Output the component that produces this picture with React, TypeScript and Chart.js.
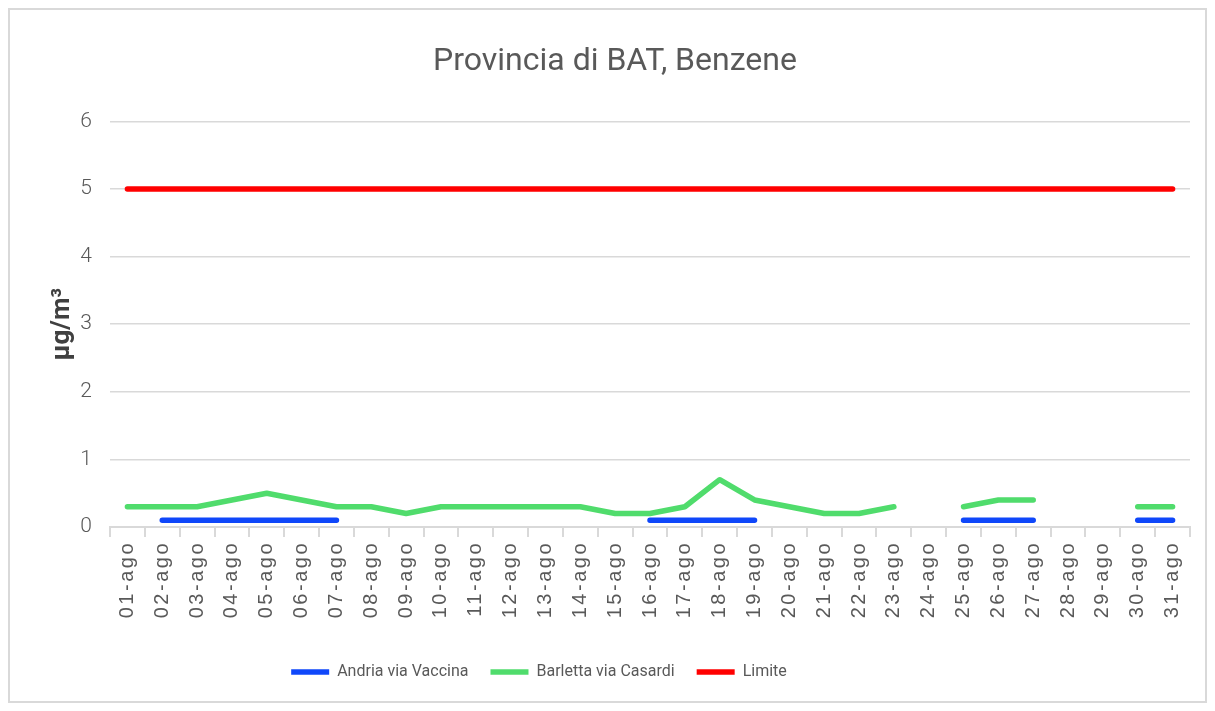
import React, { useEffect, useRef } from "react";
import { Chart, registerables } from "chart.js";

Chart.register(...registerables);

const categories = [
  "01-ago", "02-ago", "03-ago", "04-ago", "05-ago", "06-ago", "07-ago", "08-ago",
  "09-ago", "10-ago", "11-ago", "12-ago", "13-ago", "14-ago", "15-ago", "16-ago",
  "17-ago", "18-ago", "19-ago", "20-ago", "21-ago", "22-ago", "23-ago", "24-ago",
  "25-ago", "26-ago", "27-ago", "28-ago", "29-ago", "30-ago", "31-ago",
];

const andria: (number | null)[] = [
  null, 0.1, 0.1, 0.1, 0.1, 0.1, 0.1, null,
  null, null, null, null, null, null, null, 0.1,
  0.1, 0.1, 0.1, null, null, null, null, null,
  0.1, 0.1, 0.1, null, null, 0.1, 0.1,
];

const barletta: (number | null)[] = [
  0.3, 0.3, 0.3, 0.4, 0.5, 0.4, 0.3, 0.3,
  0.2, 0.3, 0.3, 0.3, 0.3, 0.3, 0.2, 0.2,
  0.3, 0.7, 0.4, 0.3, 0.2, 0.2, 0.3, null,
  0.3, 0.4, 0.4, null, null, 0.3, 0.3,
];

const limite: number[] = [
  5, 5, 5, 5, 5, 5, 5, 5, 5, 5, 5, 5, 5, 5, 5, 5,
  5, 5, 5, 5, 5, 5, 5, 5, 5, 5, 5, 5, 5, 5, 5,
];

const FONT = "Roboto, 'Liberation Sans', sans-serif";
const TICK_FONT = "'Liberation Sans', Arial, sans-serif";
const TEXT = "#595959";
const GRID = "#d9d9d9";

const layoutTweaks = {
  id: "layoutTweaks",
  afterLayout(chart: any) {
    if (chart.legend) {
      chart.legend.left -= 61;
      chart.legend.right -= 61;
    }
    if (chart.titleBlock) {
      chart.titleBlock.left += 15;
      chart.titleBlock.right += 15;
    }
  },
  beforeDraw(chart: any) {
    const s: any = chart.scales.x;
    if (s && !s.__patched) {
      const orig = s.drawLabels.bind(s);
      s.drawLabels = (ca: any) => {
        const ctx: any = chart.ctx;
        ctx.save();
        ctx.letterSpacing = "2.5px";
        orig(ca);
        ctx.restore();
      };
      s.__patched = true;
    }
  },
};

export default function App() {
  const ref = useRef<HTMLCanvasElement | null>(null);

  useEffect(() => {
    if (!ref.current) return;
    const lineStyle = {
      borderWidth: 5.5,
      pointRadius: 0,
      pointHoverRadius: 0,
      borderCapStyle: "round" as const,
      borderJoinStyle: "round" as const,
      tension: 0,
      spanGaps: false,
      fill: false,
    };
    const chart = new Chart(ref.current, {
      type: "line",
      plugins: [layoutTweaks],
      data: {
        labels: categories,
        datasets: [
          { label: "Andria via Vaccina", data: andria, borderColor: "#0f47fa", backgroundColor: "#0f47fa", ...lineStyle },
          { label: "Barletta via Casardi", data: barletta, borderColor: "#50dc6c", backgroundColor: "#50dc6c", ...lineStyle },
          { label: "Limite", data: limite, borderColor: "#ff0000", backgroundColor: "#ff0000", ...lineStyle },
        ],
      },
      options: {
        animation: false,
        responsive: false,
        maintainAspectRatio: false,
        layout: { padding: { left: 0, right: 15, top: 0, bottom: 11 } },
        plugins: {
          tooltip: { enabled: false },
          title: {
            display: true,
            text: "Provincia di BAT, Benzene",
            color: TEXT,
            font: { family: FONT, size: 32, weight: "normal" },
            padding: { top: 33, bottom: 40 },
          },
          legend: {
            position: "bottom",
            labels: {
              usePointStyle: true,
              pointStyle: "line",
              pointStyleWidth: 38,
              color: TEXT,
              font: { family: FONT, size: 16 },
              padding: 22,
            },
          },
        },
        scales: {
          x: {
            offset: true,
            grid: { offset: true, drawOnChartArea: false, tickLength: 10, color: GRID, lineWidth: 2 },
            border: { color: GRID, width: 2 },
            ticks: {
              minRotation: 90,
              maxRotation: 90,
              autoSkip: false,
              color: TEXT,
              font: { family: TICK_FONT, size: 20 },
              padding: 4,
            },
            afterFit: (s: any) => { s.height = 115; },
          },
          y: {
            min: 0,
            max: 6,
            ticks: { stepSize: 1, color: TEXT, font: { family: FONT, size: 21, weight: 300 }, padding: 18 },
            grid: { color: GRID, lineWidth: 1.5, drawTicks: false },
            border: { display: false },
            title: {
              display: true,
              text: "μg/m³",
              color: "#404040",
              font: { family: FONT, size: 26, weight: "bold" },
              padding: { top: 37, bottom: 0 },
            },
            afterFit: (s: any) => { s.width = 100; },
          },
        },
      },
    });
    return () => chart.destroy();
  }, []);

  return (
    <div style={{ width: 1199, height: 695, border: `2px solid ${GRID}`, boxSizing: "border-box", background: "#fff" }}>
      <canvas ref={ref} width={1195} height={691} style={{ display: "block" }} />
    </div>
  );
}
